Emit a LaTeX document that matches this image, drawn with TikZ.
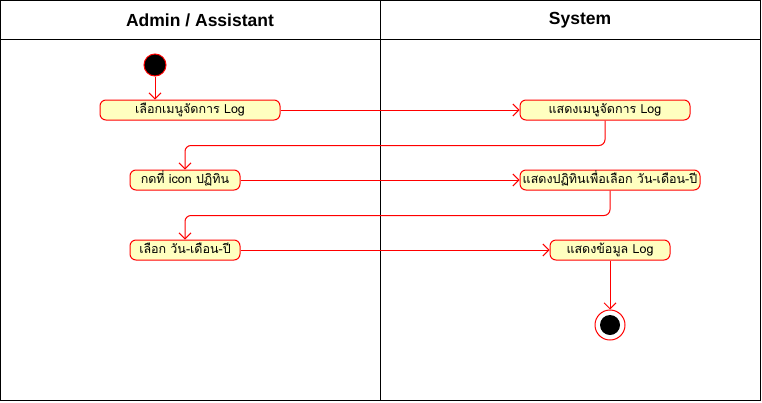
\documentclass[tikz,border=0pt]{standalone}
\usepackage{fontspec}
\setmainfont{Liberation Sans}
\newfontfamily\thaifont[Script=Thai]{Loma}
\usetikzlibrary{arrows.meta}
\definecolor{actfill}{HTML}{FFFFC0}
\definecolor{actline}{HTML}{FF0000}
\tikzset{
  act/.style={draw=actline, line width=1pt, fill=actfill, rounded corners=6pt, minimum height=20pt, inner sep=0pt, text height=8.5pt, text depth=2.5pt, font=\thaifont\fontsize{12.5}{14}\selectfont},
  flow/.style={draw=actline, line width=1pt, -{Straight Barb[length=6pt,width=12pt]}, rounded corners=6pt},
  lane/.style={draw=black, line width=1pt},
  hdr/.style={font=\bfseries\fontsize{17.5}{20}\selectfont}
}
\begin{document}
\begin{tikzpicture}[x=1pt,y=-1pt]
\useasboundingbox (0,0) rectangle (762,402);
\fill[white] (0,0) rectangle (762,402);
\draw[lane] (0.5,0.5) rectangle (760.5,400.5);
\draw[lane] (0.5,39) -- (760.5,39);
\draw[lane] (380.5,0.5) -- (380.5,400.5);
\node[hdr] (h1) at (200,20) {Admin / Assistant};
\node[hdr] (h2) at (580,20) {System};

\node[circle, fill=black, draw=actline, line width=1pt, minimum size=22pt, inner sep=0pt] (start) at (155,65) {};
\node[act, minimum width=180pt] (a1) at (190,110) {เลือกเมนูจัดการ Log};
\node[act, minimum width=170pt] (s1) at (605,110) {แสดงเมนูจัดการ Log};
\node[act, minimum width=110pt] (a2) at (185,180) {กดที่ icon ปฏิทิน};
\node[act, minimum width=180pt] (s2) at (610,180) {แสดงปฏิทินเพื่อเลือก วัน-เดือน-ปี};
\node[act, minimum width=110pt] (a3) at (185,250) {เลือก วัน-เดือน-ปี};
\node[act, minimum width=120pt] (s3) at (610,250) {แสดงข้อมูล Log};
\node[circle, draw=actline, line width=1pt, fill=white, minimum size=30pt, inner sep=0pt] (end) at (610,325) {};
\node[circle, fill=black, minimum size=20pt, inner sep=0pt] (endin) at (610,325) {};

\draw[flow] (start) -- (start |- a1.north);
\draw[flow] (a1) -- (s1);
\draw[flow] (s1.south) -- ++(0,25) -| (a2.north);
\draw[flow] (a2) -- (s2);
\draw[flow] (s2.south) -- ++(0,25) -| (a3.north);
\draw[flow] (a3) -- (s3);
\draw[flow] (s3) -- (end);
\end{tikzpicture}
\end{document}
